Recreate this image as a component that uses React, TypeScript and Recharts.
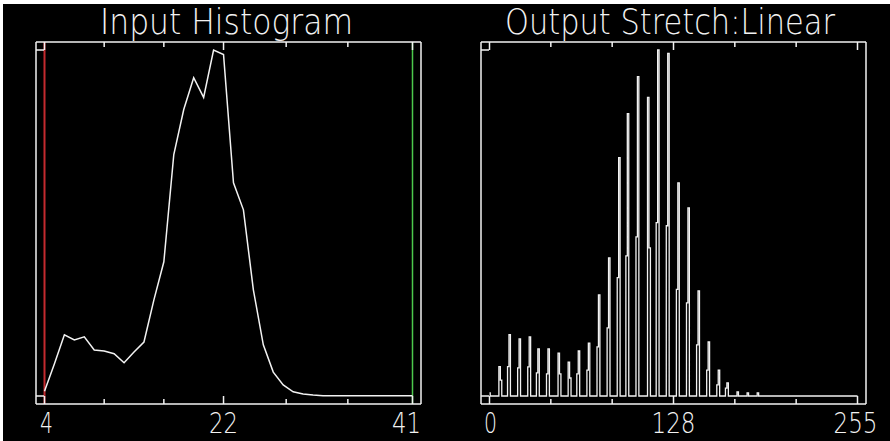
import React from 'react';
import { ComposedChart, Line, XAxis, YAxis, ReferenceLine } from 'recharts';

// ---------- Input histogram (left panel) ----------
const inputLevels = [
  4, 5, 6, 7, 8, 9, 10, 11, 12, 13, 14, 15, 16, 17, 18, 19, 20, 21, 22, 23,
  24, 25, 26, 27, 28, 29, 30, 31, 32, 33, 34, 35, 36, 37, 38, 39, 40, 41,
];
const inputCounts = [
  1.4, 9.3, 17.7, 16.2, 17.1, 13.3, 13.0, 12.2, 9.6, 12.7, 15.6, 27.8, 38.8, 69.8,
  82.8, 92.0, 86.3, 100, 98.7, 61.6, 53.8, 30.7, 14.8, 6.9, 3.2, 1.2, 0.6, 0.3,
  0.1, 0.1, 0.1, 0.1, 0.1, 0.1, 0.1, 0.1, 0.1, 0.1,
];
const inputTicks = [4, 10, 16, 22, 28.3, 34.5, 41];
const inputMajorTicks = [4, 22, 41];
const inputTickLabels = ['4', '22', '41'];
const inputLabelShift = [2, 0, -6];
const stretchMin = 4;
const stretchMax = 41;

// ---------- Output stretch (right panel) ----------
const outputTallBins = [
  0, 7, 14, 21, 28, 34, 41, 48, 55, 62, 69, 76, 83, 90, 96, 103, 110, 117, 124, 131,
  138, 145, 152, 159, 165, 172, 179, 186,
];
const outputTallCounts = [
  0.9, 8.5, 17.7, 16.5, 17.1, 13.6, 13.6, 12.4, 9.8, 13.0, 15.3, 29.2, 39.9, 68.9,
  81.6, 92.3, 86.3, 100, 99.0, 61.6, 54.4, 30.4, 15.6, 7.5, 3.8, 1.2, 0.9, 0.9,
];
const outputShortBins = [
  8, 13, 20, 27, 33, 40, 49, 56, 61, 68, 75, 82, 89, 95, 102, 111, 116, 123, 130, 137,
  144, 151, 158, 164,
];
const outputShortCounts = [
  4.6, 8.5, 8.1, 8.4, 6.7, 6.4, 6.4, 5.2, 6.4, 7.5, 14.2, 19.7, 34.2, 40.5, 46.0, 42.8,
  50.1, 49.2, 30.8, 26.9, 14.8, 7.5, 3.2, 2.3,
];
const outputTicks = [0, 42.5, 85, 127.5, 170, 212.5, 255];
const outputMajorTicks = [0, 127.5, 255];
const outputTickLabels = ['0', '128', '255'];
const outputLabelShift = [1, 0, -2];

const yTicks = [0, 100];

const titles = ['Input Histogram', 'Output Stretch:Linear'];

// ---------- tables built for the library ----------
const inputTable = inputLevels.map((level, i) => ({ level, count: inputCounts[i] }));

const outputTable: { bin: number; count: number }[] = [];
for (let b = 0; b <= 255; b++) outputTable.push({ bin: b, count: 0 });
outputTallBins.forEach((b, i) => {
  outputTable[b].count = outputTallCounts[i];
});
outputShortBins.forEach((b, i) => {
  outputTable[b].count = outputShortCounts[i];
});

// ---------- styles ----------
const FG = '#f2f2f2';
const FONT = '"DejaVu Sans", "Liberation Sans", sans-serif';
const W = 445;
const H = 441;
const margin = { top: 12, right: 14, bottom: 0, left: 26 };

const makeXTick = (
  major: number[],
  labels: string[],
  shifts: number[],
  side: 'top' | 'bottom'
) => (props: any) => {
  const { x, y, payload } = props;
  const v = payload.value;
  const mi = major.indexOf(v);
  const len = mi >= 0 ? 8 : 5;
  const dir = side === 'bottom' ? -1 : 1;
  const label = mi >= 0 ? labels[mi] : null;
  return (
    <g>
      <line x1={x} y1={y} x2={x} y2={y + dir * len} stroke={FG} strokeWidth={1.5} />
      {side === 'bottom' && label !== null ? (
        <text
          x={x + shifts[mi]}
          y={y + 29}
          fill={FG}
          fontFamily={FONT}
          fontWeight={200}
          fontSize={29}
          textAnchor="middle"
          textLength={label.length === 1 ? 13 : label.length === 2 ? 29 : 44}
          lengthAdjust="spacingAndGlyphs"
        >
          {label}
        </text>
      ) : null}
    </g>
  );
};

const makeYTick = (side: 'left' | 'right') => (props: any) => {
  const { x, y } = props;
  const dir = side === 'left' ? 1 : -1;
  return <line x1={x} y1={y} x2={x + dir * 8} y2={y} stroke={FG} strokeWidth={1.5} />;
};

const axisLine = { stroke: FG, strokeWidth: 1.5 };
const xPad = { left: 8.5, right: 8.5 };
const yPad = { top: 8, bottom: 8 };

function Panel(props: {
  data: any[];
  dataKey: string;
  domain: [number, number];
  ticks: number[];
  major: number[];
  labels: string[];
  shifts: number[];
  children: React.ReactNode;
}) {
  const { data, dataKey, domain, ticks, major, labels, shifts, children } = props;
  return (
    <ComposedChart width={W} height={H} data={data} margin={margin}>
      <XAxis
        xAxisId="b"
        orientation="bottom"
        dataKey={dataKey}
        type="number"
        domain={domain}
        ticks={ticks}
        interval={0}
        padding={xPad}
        height={37}
        tickSize={0}
        tickMargin={0}
        tickLine={false}
        axisLine={axisLine}
        tick={makeXTick(major, labels, shifts, 'bottom')}
      />
      <XAxis
        xAxisId="t"
        orientation="top"
        dataKey={dataKey}
        type="number"
        domain={domain}
        ticks={ticks}
        interval={0}
        padding={xPad}
        height={30}
        tickSize={0}
        tickMargin={0}
        tickLine={false}
        axisLine={axisLine}
        tick={makeXTick(major, labels, shifts, 'top')}
      />
      <YAxis
        yAxisId="l"
        orientation="left"
        type="number"
        domain={[0, 100]}
        ticks={yTicks}
        interval={0}
        padding={yPad}
        width={10}
        tickSize={0}
        tickMargin={0}
        tickLine={false}
        axisLine={axisLine}
        tick={makeYTick('left')}
      />
      <YAxis
        yAxisId="r"
        orientation="right"
        type="number"
        domain={[0, 100]}
        ticks={yTicks}
        interval={0}
        padding={yPad}
        width={10}
        tickSize={0}
        tickMargin={0}
        tickLine={false}
        axisLine={axisLine}
        tick={makeYTick('right')}
      />
      {children}
    </ComposedChart>
  );
}

export default function App() {
  return (
    <div style={{ position: 'absolute', left: 0, top: 0, width: 890, height: 441, background: '#fff' }}>
      <div style={{ position: 'absolute', left: 3, top: 4, width: 887, height: 437, background: '#000' }} />
      <div style={{ position: 'absolute', left: 0, top: 0 }}>
        <Panel
          data={inputTable}
          dataKey="level"
          domain={[stretchMin, stretchMax]}
          ticks={inputTicks}
          major={inputMajorTicks}
          labels={inputTickLabels}
          shifts={inputLabelShift}
        >
          <ReferenceLine xAxisId="b" yAxisId="l" x={stretchMin} stroke="#c42a2e" strokeWidth={2} />
          <ReferenceLine xAxisId="b" yAxisId="l" x={stretchMax} stroke="#4cc84c" strokeWidth={1.5} />
          <Line
            xAxisId="b"
            yAxisId="l"
            dataKey="count"
            type="linear"
            stroke={FG}
            strokeWidth={1.5}
            dot={false}
            activeDot={false}
            isAnimationActive={false}
          />
        </Panel>
      </div>
      <div style={{ position: 'absolute', left: 445, top: 0 }}>
        <Panel
          data={outputTable}
          dataKey="bin"
          domain={[0, 255]}
          ticks={outputTicks}
          major={outputMajorTicks}
          labels={outputTickLabels}
          shifts={outputLabelShift}
        >
          <Line
            xAxisId="b"
            yAxisId="l"
            dataKey="count"
            type="step"
            stroke={FG}
            strokeWidth={1.3}
            dot={false}
            activeDot={false}
            isAnimationActive={false}
          />
        </Panel>
      </div>
      <svg
        width={890}
        height={441}
        style={{ position: 'absolute', left: 0, top: 0, pointerEvents: 'none' }}
      >
        <text
          x={226.5}
          y={34}
          fill={FG}
          fontFamily={FONT}
          fontWeight={200}
          fontSize={35}
          textAnchor="middle"
          textLength={253}
          lengthAdjust="spacingAndGlyphs"
        >
          {titles[0]}
        </text>
        <text
          x={670}
          y={34}
          fill={FG}
          fontFamily={FONT}
          fontWeight={200}
          fontSize={35}
          textAnchor="middle"
          textLength={330}
          lengthAdjust="spacingAndGlyphs"
        >
          {titles[1]}
        </text>
      </svg>
    </div>
  );
}
